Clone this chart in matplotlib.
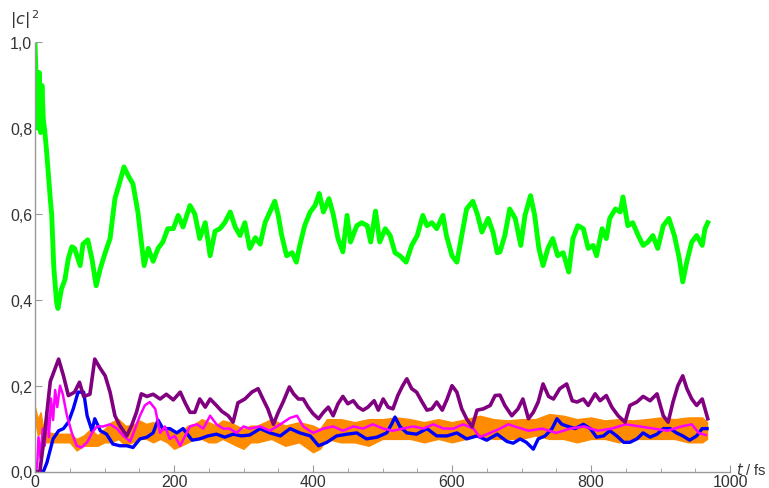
import numpy as np
import matplotlib.pyplot as plt
from matplotlib.ticker import MultipleLocator, FuncFormatter

# populations |c|^2 vs time (fs)
t_green = [0, 2, 4, 6, 8, 10, 12, 14, 17, 22, 24, 27, 31, 33, 38, 43, 48, 53, 57, 65,
           69, 76, 82, 88, 94, 101, 108, 115, 122, 128, 134, 141, 148, 157, 163, 170,
           177, 184, 191, 199, 206, 213, 223, 230, 237, 245, 252, 259, 266, 273, 281,
           288, 295, 302, 309, 317, 324, 331, 338, 345, 350, 355, 362, 370, 376, 381,
           388, 396, 403, 409, 415, 423, 429, 436, 443, 449, 454, 463, 470, 478, 483,
           490, 496, 504, 511, 518, 525, 534, 542, 550, 558, 564, 571, 578, 587, 592,
           600, 607, 614, 621, 630, 637, 643, 652, 659, 665, 669, 676, 683, 691, 699,
           705, 713, 719, 725, 731, 738, 745, 752, 760, 768, 774, 781, 789, 796, 803,
           808, 816, 822, 827, 835, 842, 846, 853, 860, 868, 875, 882, 889, 896, 904,
           912, 920, 927, 932, 938, 945, 952, 960, 964, 968]
green = [1.0, 0.90, 0.80, 0.93, 0.79, 0.90, 0.82, 0.795, 0.74, 0.635, 0.60, 0.477, 0.395,
         0.38, 0.425, 0.447, 0.497, 0.524, 0.52, 0.48, 0.53, 0.54, 0.495, 0.433, 0.473,
         0.51, 0.543, 0.636, 0.675, 0.71, 0.69, 0.67, 0.605, 0.48, 0.52, 0.49, 0.52,
         0.535, 0.566, 0.566, 0.597, 0.57, 0.62, 0.60, 0.543, 0.58, 0.503, 0.56, 0.566,
         0.58, 0.605, 0.57, 0.55, 0.58, 0.52, 0.545, 0.53, 0.58, 0.605, 0.63, 0.597,
         0.55, 0.503, 0.51, 0.488, 0.527, 0.573, 0.605, 0.62, 0.648, 0.605, 0.636, 0.60,
         0.543, 0.512, 0.597, 0.535, 0.573, 0.58, 0.573, 0.535, 0.607, 0.535, 0.566,
         0.55, 0.51, 0.503, 0.488, 0.527, 0.55, 0.597, 0.573, 0.58, 0.566, 0.597, 0.55,
         0.503, 0.488, 0.55, 0.612, 0.63, 0.597, 0.558, 0.59, 0.558, 0.51, 0.512, 0.55,
         0.612, 0.59, 0.527, 0.597, 0.643, 0.597, 0.52, 0.48, 0.52, 0.543, 0.503, 0.51,
         0.465, 0.543, 0.573, 0.566, 0.52, 0.527, 0.503, 0.566, 0.543, 0.59, 0.612,
         0.605, 0.64, 0.573, 0.58, 0.55, 0.527, 0.535, 0.55, 0.52, 0.573, 0.59, 0.55,
         0.497, 0.442, 0.49, 0.535, 0.55, 0.527, 0.566, 0.58]

t_purple = [0, 7, 14, 22, 34, 41, 48, 57, 64, 70, 79, 86, 94, 101, 108, 115, 122, 132,
            139, 146, 153, 161, 170, 180, 189, 199, 209, 216, 223, 230, 237, 245, 252,
            261, 269, 278, 285, 292, 302, 312, 321, 328, 335, 343, 350, 357, 366, 372,
            379, 386, 393, 400, 408, 415, 422, 429, 436, 443, 450, 458, 465, 472, 479,
            488, 494, 501, 508, 515, 522, 529, 535, 542, 549, 557, 564, 571, 578, 586,
            593, 600, 607, 614, 621, 629, 636, 645, 655, 662, 669, 676, 686, 695, 702,
            710, 717, 724, 731, 739, 746, 755, 765, 773, 780, 789, 796, 806, 813, 822,
            830, 839, 849, 856, 866, 875, 885, 895, 904, 911, 918, 925, 932, 938, 945,
            952, 960, 964, 968]
purple = [0.0, 0.0, 0.09, 0.21, 0.262, 0.223, 0.177, 0.185, 0.208, 0.175, 0.18, 0.262,
          0.24, 0.223, 0.185, 0.13, 0.107, 0.083, 0.107, 0.138, 0.181, 0.175, 0.18,
          0.169, 0.18, 0.167, 0.185, 0.16, 0.138, 0.138, 0.169, 0.15, 0.169, 0.154,
          0.14, 0.13, 0.115, 0.16, 0.169, 0.185, 0.193, 0.169, 0.146, 0.11, 0.138,
          0.162, 0.197, 0.181, 0.169, 0.169, 0.15, 0.135, 0.123, 0.138, 0.15, 0.13,
          0.158, 0.175, 0.158, 0.165, 0.15, 0.143, 0.15, 0.165, 0.143, 0.169, 0.15,
          0.146, 0.177, 0.20, 0.216, 0.193, 0.185, 0.162, 0.143, 0.146, 0.162, 0.143,
          0.169, 0.20, 0.185, 0.146, 0.123, 0.104, 0.143, 0.146, 0.154, 0.177, 0.178,
          0.154, 0.13, 0.146, 0.169, 0.123, 0.138, 0.162, 0.204, 0.175, 0.169, 0.193,
          0.204, 0.165, 0.162, 0.169, 0.154, 0.181, 0.165, 0.177, 0.15, 0.13, 0.115,
          0.154, 0.162, 0.175, 0.165, 0.181, 0.13, 0.115, 0.162, 0.20, 0.223, 0.193,
          0.169, 0.154, 0.169, 0.146, 0.123]

t_blue = [0, 12, 17, 26, 34, 41, 48, 55, 62, 70, 75, 82, 86, 94, 103, 112, 122, 132, 141,
          151, 161, 170, 177, 184, 194, 204, 213, 226, 237, 249, 261, 273, 285, 297, 309,
          324, 338, 353, 367, 381, 396, 408, 420, 434, 449, 463, 477, 492, 506, 513, 518,
          525, 535, 549, 564, 578, 593, 607, 621, 636, 650, 665, 679, 688, 698, 707, 717,
          724, 734, 744, 751, 758, 767, 777, 789, 799, 808, 818, 827, 837, 847, 856, 866,
          875, 885, 895, 904, 914, 923, 932, 942, 952, 960, 967]
blue = [0.0, 0.0, 0.02, 0.076, 0.095, 0.10, 0.115, 0.146, 0.185, 0.185, 0.13, 0.095,
        0.123, 0.095, 0.087, 0.064, 0.06, 0.06, 0.056, 0.076, 0.08, 0.09, 0.12, 0.10,
        0.10, 0.09, 0.10, 0.073, 0.076, 0.083, 0.087, 0.08, 0.087, 0.083, 0.085, 0.10,
        0.09, 0.083, 0.10, 0.09, 0.083, 0.06, 0.068, 0.083, 0.087, 0.09, 0.076, 0.08,
        0.09, 0.11, 0.127, 0.105, 0.09, 0.087, 0.10, 0.083, 0.083, 0.09, 0.076, 0.083,
        0.073, 0.087, 0.07, 0.066, 0.076, 0.068, 0.052, 0.076, 0.083, 0.10, 0.123,
        0.11, 0.105, 0.10, 0.11, 0.10, 0.08, 0.083, 0.095, 0.083, 0.068, 0.068, 0.076,
        0.09, 0.08, 0.087, 0.10, 0.10, 0.09, 0.083, 0.073, 0.083, 0.10, 0.10]

t_magenta = [0, 3, 5, 8, 11, 14, 17, 20, 23, 26, 29, 32, 36, 40, 46, 53, 60, 67, 75, 82,
             89, 98, 108, 118, 127, 137, 144, 151, 158, 165, 173, 180, 187, 194, 201,
             209, 216, 223, 233, 242, 252, 261, 271, 280, 290, 300, 309, 324, 338, 353,
             367, 377, 386, 400, 415, 429, 443, 458, 472, 486, 501, 515, 529, 544, 559,
             573, 588, 602, 616, 631, 640, 655, 669, 681, 690, 710, 730, 750, 770, 790,
             810, 830, 850, 870, 890, 910, 930, 945, 955, 965]
magenta = [0.0, 0.01, 0.08, 0.03, 0.10, 0.06, 0.14, 0.08, 0.17, 0.12, 0.19, 0.15, 0.20,
           0.18, 0.13, 0.09, 0.06, 0.056, 0.068, 0.09, 0.105, 0.105, 0.11, 0.10, 0.083,
           0.07, 0.10, 0.13, 0.154, 0.162, 0.146, 0.09, 0.105, 0.076, 0.083, 0.06, 0.083,
           0.105, 0.11, 0.10, 0.13, 0.11, 0.10, 0.10, 0.09, 0.105, 0.10, 0.105, 0.095,
           0.11, 0.125, 0.13, 0.105, 0.09, 0.10, 0.105, 0.095, 0.105, 0.10, 0.11, 0.10,
           0.095, 0.10, 0.105, 0.10, 0.11, 0.10, 0.10, 0.11, 0.10, 0.08, 0.09, 0.10,
           0.11, 0.105, 0.095, 0.10, 0.09, 0.10, 0.105, 0.095, 0.10, 0.11, 0.105, 0.10,
           0.095, 0.105, 0.11, 0.09, 0.085]

# orange oscillates fast, so it shows as a band: lower / upper edge
t_orange = [0, 4, 8, 12, 16, 20, 30, 40, 50, 60, 70, 80, 90, 100, 110, 120, 130, 140,
            150, 160, 170, 180, 190, 200, 210, 220, 230, 240, 250, 260, 270, 280, 290,
            300, 310, 320, 340, 360, 380, 400, 410, 420, 440, 460, 480, 500, 520, 540,
            560, 580, 600, 620, 640, 660, 680, 700, 720, 740, 760, 780, 800, 820, 840,
            860, 880, 900, 920, 940, 960, 967]
orange_lo = [0.12, 0.084, 0.091, 0.076, 0.068, 0.068, 0.068, 0.068, 0.068, 0.049, 0.060,
             0.060, 0.060, 0.068, 0.068, 0.076, 0.060, 0.068, 0.076, 0.076, 0.068, 0.076,
             0.068, 0.053, 0.060, 0.068, 0.076, 0.076, 0.068, 0.068, 0.076, 0.068, 0.060,
             0.053, 0.068, 0.068, 0.076, 0.060, 0.068, 0.045, 0.053, 0.076, 0.068, 0.068,
             0.060, 0.076, 0.076, 0.076, 0.068, 0.076, 0.068, 0.076, 0.084, 0.076, 0.076,
             0.076, 0.084, 0.076, 0.076, 0.068, 0.076, 0.076, 0.068, 0.076, 0.076, 0.076,
             0.076, 0.068, 0.068, 0.076]
orange_hi = [0.15, 0.122, 0.138, 0.099, 0.091, 0.091, 0.088, 0.088, 0.088, 0.076, 0.084,
             0.099, 0.084, 0.099, 0.115, 0.122, 0.107, 0.107, 0.119, 0.111, 0.115, 0.107,
             0.099, 0.091, 0.091, 0.107, 0.111, 0.122, 0.115, 0.107, 0.119, 0.115, 0.107,
             0.099, 0.107, 0.107, 0.122, 0.107, 0.115, 0.107, 0.099, 0.122, 0.122, 0.115,
             0.122, 0.122, 0.126, 0.122, 0.115, 0.122, 0.115, 0.122, 0.130, 0.122, 0.119,
             0.122, 0.122, 0.134, 0.130, 0.122, 0.126, 0.119, 0.122, 0.119, 0.122, 0.126,
             0.122, 0.126, 0.126, 0.115]

plt.rcParams['font.family'] = ['Liberation Sans', 'DejaVu Sans']

fig = plt.figure(figsize=(7.69, 4.89), dpi=100)
ax = fig.add_axes([35 / 769, 16.5 / 489, 695 / 769, 429 / 489])

ax.plot(t_green, green, color='#00ff00', lw=3.5, solid_joinstyle='round')
ax.fill_between(t_orange, orange_lo, orange_hi, color='#ff8c00', lw=1, edgecolor='#ff8c00')
ax.plot(t_blue, blue, color='#0000ff', lw=2.4)
ax.plot(t_magenta, magenta, color='#ff00ff', lw=1.8)
ax.plot(t_purple, purple, color='#800080', lw=2.6)

ax.set_xlim(0, 1000)
ax.set_ylim(0, 1.0)
for s in ['top', 'right']:
    ax.spines[s].set_visible(False)
for s in ['left', 'bottom']:
    ax.spines[s].set_color('#999999')
    ax.spines[s].set_linewidth(1)

ax.xaxis.set_major_locator(MultipleLocator(200))
ax.xaxis.set_minor_locator(MultipleLocator(50))
ax.yaxis.set_major_locator(MultipleLocator(0.2))
ax.tick_params(which='both', direction='in', color='#999999', labelcolor='#333333',
               labelsize=11.5, pad=2)
ax.tick_params(which='major', length=5)
ax.tick_params(which='minor', length=3)
ax.yaxis.set_major_formatter(FuncFormatter(lambda v, p: f'{v:.1f}'.replace('.', ',')))
ax.xaxis.set_major_formatter(FuncFormatter(lambda v, p: f'{int(v)}'))

fig.text(10 / 769, 1 - 20 / 489, r'$|c|^{\,2}$', fontsize=11.5, color='#333333',
         ha='left', va='center', math_fontfamily='dejavusans')
fig.text(736 / 769, 1 - 470 / 489, r'$t$ / fs', fontsize=10.5, color='#333333',
         ha='left', va='center')

fig.savefig('out.png', dpi=100)
